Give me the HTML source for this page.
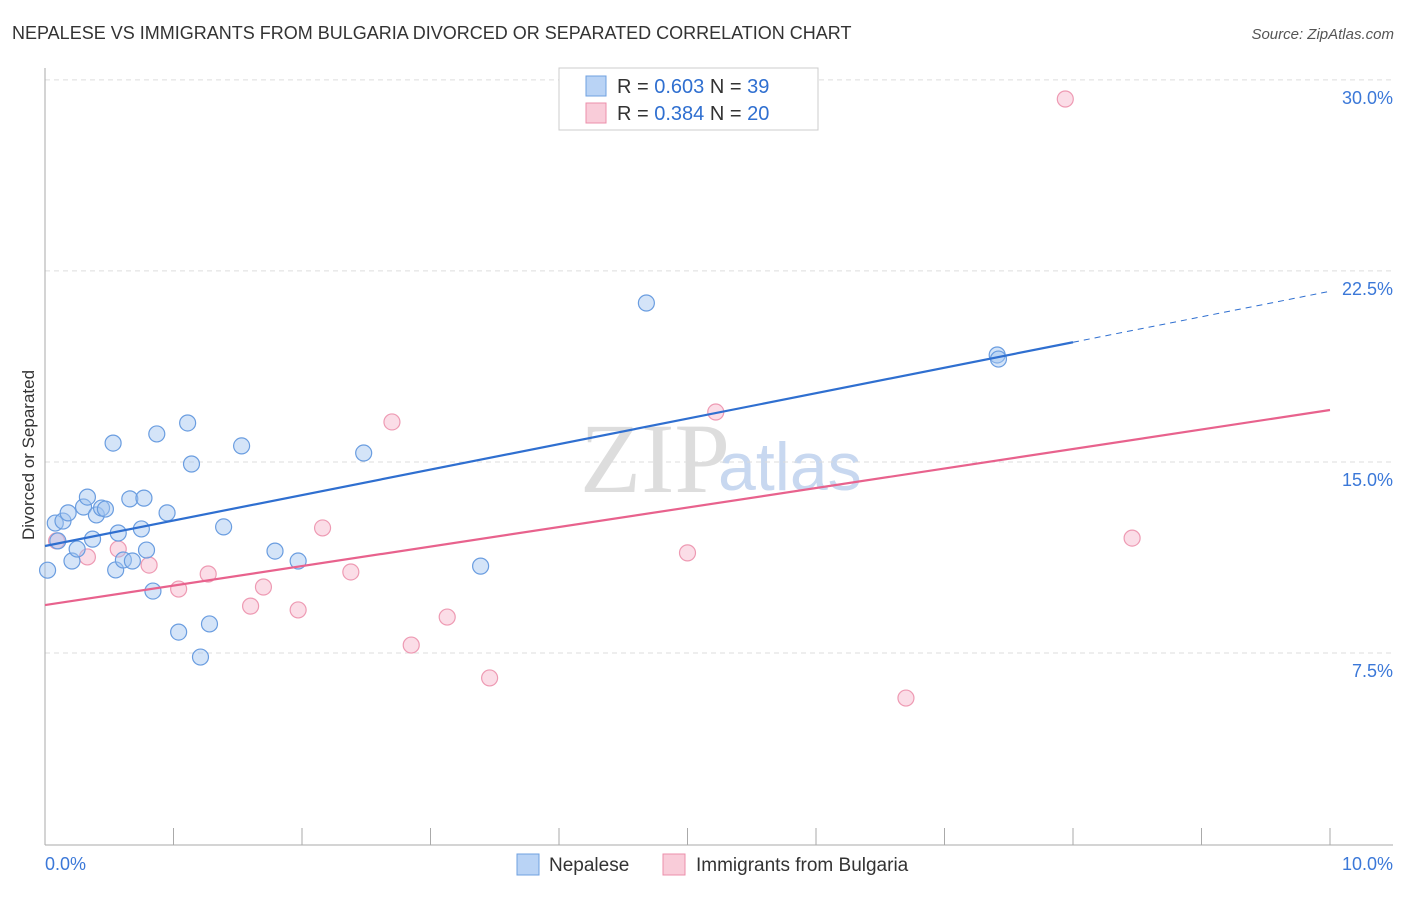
<!DOCTYPE html>
<html><head><meta charset="utf-8"><style>
body{margin:0;background:#fff;font-family:"Liberation Sans",sans-serif}
</style></head><body>
<svg width="1406" height="892" xmlns="http://www.w3.org/2000/svg" font-family="Liberation Sans, sans-serif">
<text x="12" y="39" font-size="18" fill="#333">NEPALESE VS IMMIGRANTS FROM BULGARIA DIVORCED OR SEPARATED CORRELATION CHART</text>
<text x="1394" y="39" font-size="15" fill="#555" text-anchor="end" font-style="italic">Source: ZipAtlas.com</text>
<text x="580" y="492" font-size="100" fill="#ddd" font-family="Liberation Serif, serif">ZIP</text>
<text x="718" y="490" font-size="68" fill="#c8d8f0">atlas</text>
<g id="grid"></g>
<g id="axes"></g>
<g id="marks"></g>
<text transform="translate(34,455) rotate(-90)" font-size="17" fill="#333" text-anchor="middle">Divorced or Separated</text>
<g>
<rect x="559" y="68" width="259" height="62" fill="#fff" stroke="#ccc"/>
<rect x="586" y="76" width="20" height="20" fill="#b9d3f5" stroke="#6fa0e0"/>
<rect x="586" y="103" width="20" height="20" fill="#f9ccd9" stroke="#ec8fab"/>
<text x="617" y="93" font-size="20" fill="#333">R = <tspan fill="#2f6fd0">0.603</tspan>   N = <tspan fill="#2f6fd0">39</tspan></text>
<text x="617" y="120" font-size="20" fill="#333">R = <tspan fill="#2f6fd0">0.384</tspan>   N = <tspan fill="#2f6fd0">20</tspan></text>
</g>
<g>
<rect x="517" y="854" width="22" height="21" fill="#b9d3f5" stroke="#6fa0e0"/>
<text x="549" y="871" font-size="19" fill="#333">Nepalese</text>
<rect x="663" y="854" width="22" height="21" fill="#f9ccd9" stroke="#ec8fab"/>
<text x="696" y="871" font-size="19" fill="#333">Immigrants from Bulgaria</text>
</g>
</svg>
<script>
const blueX=[0.02,0.08,0.10,0.14,0.18,0.21,0.25,0.30,0.33,0.37,0.40,0.44,0.47,0.53,0.55,0.57,0.61,0.66,0.68,0.75,0.77,0.79,0.84,0.87,0.95,1.04,1.11,1.14,1.21,1.28,1.39,1.53,1.79,1.97,2.48,3.39,4.68,7.41,7.42];
const blueY=[10.75,12.60,11.90,12.68,13.00,11.11,11.58,13.23,13.62,11.97,12.92,13.19,13.15,15.74,10.76,12.21,11.15,13.55,11.11,12.37,13.58,11.54,9.93,16.10,13.00,8.32,16.53,14.92,7.34,8.64,12.45,15.63,11.50,11.11,15.35,10.91,21.24,19.20,19.04];
const pinkX=[0.09,0.33,0.57,0.81,1.04,1.27,1.60,1.70,1.97,2.16,2.38,2.70,2.85,3.13,3.46,5.00,5.22,6.70,7.94,8.46];
const pinkY=[11.90,11.27,11.58,10.95,10.01,10.60,9.34,10.09,9.19,12.41,10.68,16.57,7.81,8.91,6.52,11.43,16.96,5.73,29.25,12.01];
const blueLine=[11.70,1.0];
const pinkLine=[9.38,0.766];
const yTicks=[7.5,15.0,22.5,30.0];
const xTickLabels=["0.0%","10.0%"];
const NS="http://www.w3.org/2000/svg";
const X=v=>45+v*128.5, Y=v=>844-v*25.47;
function mk(t,a,p){const e=document.createElementNS(NS,t);for(const k in a)e.setAttribute(k,a[k]);document.getElementById(p).appendChild(e);return e;}
yTicks.forEach(t=>{
 const l=mk('line',{x1:45,x2:1393,y1:Y(t),y2:Y(t),stroke:'#ddd','stroke-dasharray':'5,4'},'grid');
 
 
 const tx=mk('text',{x:1393,y:Y(t)+24,'font-size':18,fill:'#3b78d8','text-anchor':'end'},'grid');
 tx.textContent=t.toFixed(1)+'%';
 
 
});
const ax=mk('line',{x1:45,x2:45,y1:68,y2:845,stroke:'#aaa'},'axes');


const bx=mk('line',{x1:45,x2:1393,y1:845,y2:845,stroke:'#aaa'},'axes');


for(let i=0;i<=10;i++){const t=mk('line',{x1:X(i),x2:X(i),y1:828,y2:845,stroke:'#aaa'},'axes');
 
 }
[[0,'start',45],[1,'end',1393]].forEach(([i,a,x])=>{const t=mk('text',{x:x,y:870,'font-size':18,fill:'#3b78d8','text-anchor':a},'axes');t.textContent=xTickLabels[i];
 
 });
pinkX.forEach((x,i)=>{const c=mk('circle',{cx:X(x),cy:Y(pinkY[i]),r:8,fill:'rgba(246,170,195,0.4)',stroke:'#ee9ab3','stroke-width':1.2},'marks');
 
 });
blueX.forEach((x,i)=>{const c=mk('circle',{cx:X(x),cy:Y(blueY[i]),r:8,fill:'rgba(160,195,240,0.45)',stroke:'#6a9de0','stroke-width':1.2},'marks');
 
 });
const b1=mk('line',{x1:X(0),y1:Y(blueLine[0]),x2:X(8),y2:Y(blueLine[0]+8*blueLine[1]),stroke:'#2f6fd0','stroke-width':2.2},'marks');


const b2=mk('line',{x1:X(8),y1:Y(blueLine[0]+8*blueLine[1]),x2:X(10),y2:Y(blueLine[0]+10*blueLine[1]),stroke:'#2f6fd0','stroke-width':1,'stroke-dasharray':'6,5'},'marks');


const p1=mk('line',{x1:X(0),y1:Y(pinkLine[0]),x2:X(10),y2:Y(pinkLine[0]+10*pinkLine[1]),stroke:'#e8628d','stroke-width':2.2},'marks');


</script>
</body></html>
